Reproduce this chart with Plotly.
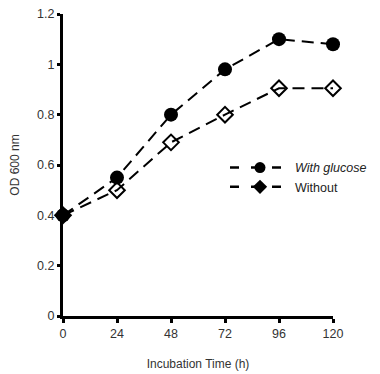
import plotly.graph_objects as go

time_h = [0, 24, 48, 72, 96, 120]
with_glucose = [0.40, 0.55, 0.80, 0.98, 1.10, 1.08]
without = [0.40, 0.50, 0.69, 0.80, 0.905, 0.905]
x_ticks = [0, 24, 48, 72, 96, 120]
y_ticks = [0, 0.2, 0.4, 0.6, 0.8, 1.0, 1.2]

FONT = "Liberation Sans, Arial, sans-serif"
DASH = "12px,7px"

fig = go.Figure()
fig.add_trace(go.Scatter(
    x=time_h, y=without, mode="lines+markers", showlegend=False,
    line=dict(color="black", width=2, dash=DASH),
    marker=dict(symbol="diamond-open", size=12, color="black", line=dict(width=2, color="black")),
    cliponaxis=False))
fig.add_trace(go.Scatter(
    x=time_h, y=with_glucose, mode="lines+markers", showlegend=False,
    line=dict(color="black", width=2, dash=DASH),
    marker=dict(symbol="circle", size=14, color="black"),
    cliponaxis=False))
# legend entries (as in the original figure)
fig.add_trace(go.Scatter(
    x=[None], y=[None], mode="lines+markers", name="<i>With glucose</i>",
    line=dict(color="black", width=2.5, dash="9px,12px"),
    marker=dict(symbol="circle", size=11, color="black")))
fig.add_trace(go.Scatter(
    x=[None], y=[None], mode="lines+markers", name="Without",
    line=dict(color="black", width=2.5, dash="9px,12px"),
    marker=dict(symbol="diamond", size=11, color="black")))

fig.update_layout(
    width=372, height=366,
    margin=dict(l=55, r=47, t=6, b=58, autoexpand=False),
    paper_bgcolor="white", plot_bgcolor="white",
    font=dict(family=FONT, size=12, color="#333"),
    legend=dict(x=0.6, y=0.54, xanchor="left", yanchor="top",
                bgcolor="rgba(0,0,0,0)", font=dict(size=12.5, color="#222"),
                itemwidth=60, tracegroupgap=2),
)
fig.update_xaxes(
    range=[0, 120], tickvals=x_ticks, showgrid=False, zeroline=False,
    showline=True, linecolor="black", linewidth=3, automargin=False,
    ticks="outside", ticklen=4, tickwidth=3, tickcolor="black",
    ticklabeloverflow="allow",
    title=dict(text="Incubation Time (h)", font=dict(size=12, color="#333"), standoff=20),
    tickfont=dict(size=12.5, color="#333"))
fig.update_yaxes(
    range=[0, 1.2], tickvals=y_ticks, showgrid=False, zeroline=False,
    showline=True, linecolor="black", linewidth=3, automargin=False,
    ticks="outside", ticklen=3, tickwidth=3, tickcolor="black",
    ticklabeloverflow="allow",
    title=dict(text="OD 600 nm", font=dict(size=12, color="#333"), standoff=18),
    tickfont=dict(size=12.5, color="#333"))

fig.write_html("out.html")
